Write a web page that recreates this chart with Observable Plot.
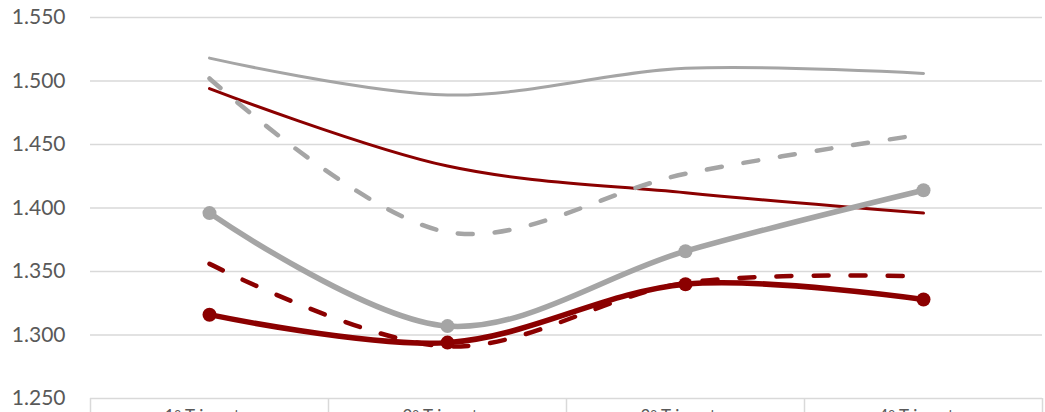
<!DOCTYPE html>
<html>
<head>
<meta charset="utf-8">
<script src="https://cdn.jsdelivr.net/npm/d3@7"></script>
<script src="https://cdn.jsdelivr.net/npm/@observablehq/plot@0.6"></script>
<style>
  html, body { margin: 0; padding: 0; background: #fff; }
  #chart { width: 1045px; height: 412px; overflow: hidden; }
</style>
</head>
<body>
<div id="chart"></div>
<script>
const categories = ["1º Trimestre", "2º Trimestre", "3º Trimestre", "4º Trimestre"];
const yTicks = [1250, 1300, 1350, 1400, 1450, 1500, 1550];

const grayThin   = [1518, 1489, 1510, 1506];
const grayDashed = [1502, 1381, 1427, 1458];
const grayThick  = [1396, 1307, 1366, 1414];
const redThin    = [1494, 1433, 1412, 1396];
const redDashed  = [1356, 1291, 1341, 1346];
const redThick   = [1316, 1294, 1340, 1328];

const GRAY = "#a5a5a5";
const RED = "#8b0000";

const toRows = (vals) => vals.map((v, i) => ({i, v}));
const bounds = d3.range(categories.length + 1).map(i => i - 0.5);

const loc = d3.formatLocale({decimal: ",", thousands: ".", grouping: [3], currency: ["", "€"]});
const fmt = loc.format(",d");

const lineOpts = (stroke, width, dash) => ({
  x: "i", y: "v", stroke, strokeWidth: width, curve: "catmull-rom",
  strokeLinecap: "round", strokeLinejoin: "round",
  strokeDasharray: dash
});

const chart = Plot.plot({
  width: 1045,
  height: 412,
  marginLeft: 90,
  marginRight: 3,
  marginTop: 17,
  marginBottom: 14,
  style: {fontFamily: "Lato, 'Open Sans', sans-serif", color: "#595959", background: "#fff", overflow: "hidden"},
  x: {type: "linear", domain: [-0.5, categories.length - 0.5]},
  y: {domain: [1250, 1550]},
  marks: [
    Plot.gridY(yTicks, {stroke: "#d9d9d9", strokeOpacity: 1, strokeWidth: 1.5}),
    Plot.ruleX(bounds, {y1: 1250, y2: 1150, stroke: "#d9d9d9", strokeWidth: 1.5}),
    Plot.axisY(yTicks, {tickSize: 0, tickPadding: 25, tickFormat: fmt, fontSize: 21, fill: "#595959", label: null}),
    Plot.axisX(d3.range(categories.length), {tickSize: 0, tickPadding: 11, tickFormat: i => categories[i], fontSize: 17, fill: "#595959", label: null}),
    Plot.line(toRows(redThin), lineOpts(RED, 3)),
    Plot.line(toRows(grayThin), lineOpts(GRAY, 3)),
    Plot.line(toRows(redDashed), lineOpts(RED, 4.5, "15,22")),
    Plot.line(toRows(grayDashed), lineOpts(GRAY, 4.5, "15,22")),
    Plot.line(toRows(grayThick), lineOpts(GRAY, 5.5)),
    Plot.dot(toRows(grayThick), {x: "i", y: "v", r: 7, fill: GRAY}),
    Plot.line(toRows(redThick), lineOpts(RED, 5.5)),
    Plot.dot(toRows(redThick), {x: "i", y: "v", r: 7, fill: RED})
  ]
});
document.getElementById("chart").appendChild(chart);
</script>
</body>
</html>
